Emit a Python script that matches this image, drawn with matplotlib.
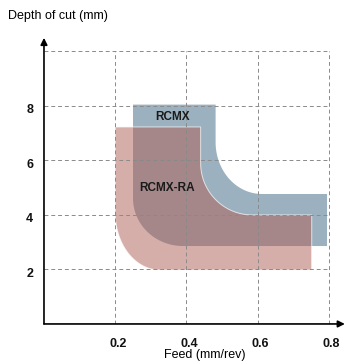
import numpy as np
import matplotlib
matplotlib.use("Agg")
import matplotlib.pyplot as plt
from matplotlib.patches import Polygon

plt.rcParams['font.family'] = ['Liberation Sans', 'DejaVu Sans']

# tick values
x_ticks = [0.2, 0.4, 0.6, 0.8]
y_ticks = [2, 4, 6, 8]
x_grid = [0.2, 0.4, 0.6, 0.8]
y_grid = [2, 4, 6, 8, 10]

# working ranges: outer box (x0, x1, y0, y1), inner corner (xi, yi)
rcmx_box = [0.25, 0.795, 2.86, 8.05]
rcmx_inner = [0.482, 4.77]
ra_box = [0.2, 0.752, 1.98, 7.23]
ra_inner = [0.44, 4.0]


def band(box, inner, r_out, r_in, n=30):
    x0, x1, y0, y1 = box
    xi, yi = inner
    rxo, ryo = r_out
    rxi, ryi = r_in
    pts = [(x0, y1), (x0, y0 + ryo)]
    t = np.linspace(np.pi, 1.5 * np.pi, n)
    pts += list(zip(x0 + rxo + rxo * np.cos(t), y0 + ryo + ryo * np.sin(t)))
    pts += [(x1, y0), (x1, yi), (xi + rxi, yi)]
    t = np.linspace(1.5 * np.pi, np.pi, n)
    pts += list(zip(xi + rxi + rxi * np.cos(t), yi + ryi + ryi * np.sin(t)))
    pts += [(xi, y1)]
    return np.array(pts)


fig = plt.figure(figsize=(3.45, 3.64), dpi=100)
ax = fig.add_axes([0.1275, 0.11, 0.872, 0.786])
ax.set_xlim(0, 0.845)
ax.set_ylim(0, 10.5)
ax.axis('off')

blue = band(rcmx_box, rcmx_inner, (0.14, 1.75), (0.13, 1.9))
ax.add_patch(Polygon(blue, closed=True, facecolor='#9bb1bf', edgecolor='none', zorder=1))

ra = band(ra_box, ra_inner, (0.125, 2.1), (0.145, 1.9))
ax.add_patch(Polygon(ra, closed=True, facecolor='#af5f55', alpha=0.5, edgecolor='none', zorder=2))
ax.add_patch(Polygon(ra, closed=True, fill=False, edgecolor='white', lw=0.7, alpha=0.7, zorder=2))

# dashed grid
for xv in x_grid:
    ax.plot([xv, xv], [0, 10], color='#8a8a8a', lw=0.7, ls=(0, (4, 3)), zorder=3)
for yv in y_grid:
    ax.plot([0, 0.8], [yv, yv], color='#8a8a8a', lw=0.7, ls=(0, (4, 3)), zorder=3)

# axes with arrows
ax.annotate('', xy=(0, 1), xytext=(0, 0), xycoords='axes fraction',
            arrowprops=dict(arrowstyle='-|>', color='black', lw=1.2, mutation_scale=10,
                            shrinkA=0, shrinkB=0), zorder=4)
ax.annotate('', xy=(1, 0), xytext=(0, 0), xycoords='axes fraction',
            arrowprops=dict(arrowstyle='-|>', color='black', lw=1.2, mutation_scale=10,
                            shrinkA=0, shrinkB=0), zorder=4)

for xv in x_ticks:
    ax.text(xv + 0.008, -0.5, f"{xv:.1f}", ha='center', va='top', fontsize=9,
            fontweight='bold', color='#111111')
for yv in y_ticks:
    ax.text(-0.03, yv - 0.15, f"{yv}", ha='right', va='center', fontsize=9,
            fontweight='bold', color='#111111')

ax.text(0.362, 7.6, "RCMX", ha='center', va='center', fontsize=8.5,
        fontweight='bold', color='#1a1a1a', zorder=5)
ax.text(0.345, 5.0, "RCMX-RA", ha='center', va='center', fontsize=8.5,
        fontweight='bold', color='#1a1a1a', zorder=5)

fig.text(8 / 345, 1 - 16 / 364, "Depth of cut (mm)", ha='left', va='center', fontsize=9)
fig.text(205 / 345, 1 - 355 / 364, "Feed (mm/rev)", ha='center', va='center', fontsize=9)

fig.savefig("out.png", dpi=100)
